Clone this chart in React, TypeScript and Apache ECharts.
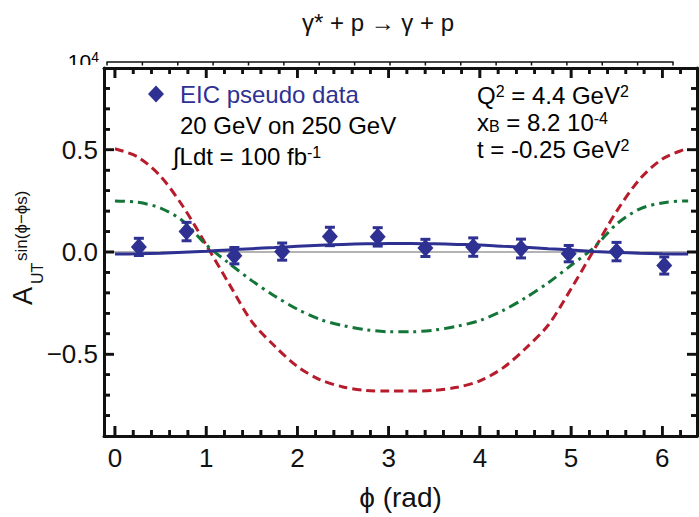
import React, { useEffect, useRef } from "react";
import * as echarts from "echarts";

const FONT = "'Liberation Sans', Arial, Helvetica, sans-serif";
const BLUE = "#2e3192";
const RED = "#b71c2c";
const GREEN = "#137538";
const INK = "#111111";

const TITLE = "γ* + p → γ + p";
const X_NAME = "ϕ (rad)";
const LEGEND_NAME = "EIC pseudo data";

const X_LABELS = [0, 1, 2, 3, 4, 5, 6];
const Y_LABELS = [-0.5, 0, 0.5];
const X_MAJOR_TICKS = [0, 1, 2, 3, 4, 5, 6];
const X_MINOR_TICKS = [0.2, 0.4, 0.6, 0.8, 1.2, 1.4, 1.6, 1.8, 2.2, 2.4, 2.6, 2.8, 3.2, 3.4, 3.6, 3.8, 4.2, 4.4, 4.6, 4.8, 5.2, 5.4, 5.6, 5.8, 6.2];
const Y_MAJOR_TICKS = [-0.5, 0, 0.5];
const Y_MINOR_TICKS = [-0.8, -0.7, -0.6, -0.4, -0.3, -0.2, -0.1, 0.1, 0.2, 0.3, 0.4, 0.6, 0.7, 0.8];
const STRAY_TICKS = [0, 1, 2, 3, 4, 5, 6, 7, 8, 9, 10, 11, 12, 13, 14, 15, 16];

// curve samples (phi in rad)
const PHI = [0, 0.25, 0.5, 0.75, 1, 1.25, 1.5, 1.75, 2, 2.25, 2.5, 2.75, 3, 3.25, 3.5, 3.75, 4, 4.25, 4.5, 4.75, 5, 5.25, 5.5, 5.75, 6, 6.25, 6.2832];
const RED_CURVE = [0.505, 0.465, 0.37, 0.22, 0.035, -0.155, -0.34, -0.46, -0.56, -0.625, -0.66, -0.677, -0.68, -0.68, -0.677, -0.662, -0.63, -0.568, -0.472, -0.357, -0.18, 0.01, 0.2, 0.355, 0.455, 0.503, 0.505];
const GREEN_CURVE = [0.25, 0.243, 0.215, 0.15, 0.035, -0.055, -0.14, -0.215, -0.28, -0.33, -0.36, -0.38, -0.39, -0.39, -0.382, -0.363, -0.335, -0.287, -0.224, -0.15, -0.065, 0.022, 0.137, 0.21, 0.24, 0.25, 0.25];
const FIT_CURVE = [-0.01, -0.009, -0.006, -0.001, 0.004, 0.01, 0.016, 0.022, 0.028, 0.033, 0.037, 0.04, 0.041, 0.041, 0.04, 0.037, 0.034, 0.028, 0.023, 0.016, 0.01, 0.003, -0.002, -0.006, -0.009, -0.01, -0.01];

// pseudo data
const PT_X = [0.262, 0.785, 1.309, 1.833, 2.356, 2.88, 3.403, 3.927, 4.451, 4.974, 5.498, 6.021];
const PT_Y = [0.025, 0.1, -0.018, 0.002, 0.076, 0.074, 0.02, 0.024, 0.017, -0.008, 0.002, -0.066];
const PT_ERR = [0.042, 0.045, 0.04, 0.042, 0.045, 0.045, 0.042, 0.045, 0.046, 0.04, 0.045, 0.042];

// axis ranges
const X_MIN = -0.12;
const X_MAX = 6.38;
const Y_MIN = -0.9;
const Y_MAX = 0.9;

const W = 699;
const H = 517;

export default function App() {
  const ref = useRef<HTMLDivElement>(null);
  useEffect(() => {
    if (!ref.current) return;
    const chart = echarts.init(ref.current, undefined, { renderer: "svg" });
    const base = { fontFamily: FONT, fontSize: 24, lineHeight: 24, color: INK };
    const sup = { fontFamily: FONT, fontSize: 16, lineHeight: 14, verticalAlign: "top", color: INK };
    const sub = { fontFamily: FONT, fontSize: 16, lineHeight: 2, verticalAlign: "bottom", color: INK };
    const rich = { a: base, s: sup, b: sub };
    const nb = { outerBoundsMode: "none", containLabel: false };
    const frameLine = { show: true, onZero: false, lineStyle: { color: INK, width: 3 } };

    // tick marks as rows [x, y, kind]: kind 0/1 x major/minor, 2/3 y major/minor
    const tickRows = [
      ...X_MAJOR_TICKS.map((v) => [v, Y_MIN, 0]),
      ...X_MINOR_TICKS.map((v) => [v, Y_MIN, 1]),
      ...Y_MAJOR_TICKS.map((v) => [X_MIN, v, 2]),
      ...Y_MINOR_TICKS.map((v) => [X_MIN, v, 3]),
    ];
    const tickLen = [10, 6, 10, 6];
    const TW = 2.6;

    const baseGraphic: any[] = [
      {
        type: "text",
        x: 378,
        y: 22,
        style: { text: TITLE, fontFamily: FONT, fontSize: 24, fill: INK, align: "center", verticalAlign: "middle" },
      },
      {
        type: "text",
        x: 99,
        y: 50,
        style: {
          text: "{m|10}{s|4}",
          align: "right",
          verticalAlign: "top",
          rich: {
            m: { fontFamily: FONT, fontSize: 21, lineHeight: 22, color: INK },
            s: { fontFamily: FONT, fontSize: 14, lineHeight: 14, verticalAlign: "top", color: INK },
          },
        },
      },
      { type: "rect", shape: { x: 30, y: 65, width: 72, height: 14 }, style: { fill: "#fff" }, z: 10 },
      { type: "text", x: 180, y: 125, style: { text: "{a|20 GeV on 250 GeV}", rich, verticalAlign: "middle", align: "left" } },
      { type: "text", x: 173, y: 156, style: { text: "{a|∫Ldt = 100 fb}{s|-1}", rich, verticalAlign: "middle", align: "left" } },
      { type: "text", x: 477, y: 95, style: { text: "{a|Q}{s|2}{a| = 4.4 GeV}{s|2}", rich, verticalAlign: "middle", align: "left" } },
      { type: "text", x: 477, y: 122, style: { text: "{a|x}{b|B}{a| = 8.2 10}{s|-4}", rich, verticalAlign: "middle", align: "left" } },
      { type: "text", x: 477, y: 149, style: { text: "{a|t = -0.25 GeV}{s|2}", rich, verticalAlign: "middle", align: "left" } },
      {
        type: "group",
        x: 32,
        y: 305,
        rotation: Math.PI / 2,
        children: [
          { type: "text", x: 0, y: -9.5, style: { text: "A", fontFamily: FONT, fontSize: 27, fill: INK, align: "left", verticalAlign: "middle" } },
          { type: "text", x: 21, y: 5.5, style: { text: "UT", fontFamily: FONT, fontSize: 16, fill: INK, align: "left", verticalAlign: "middle" } },
          { type: "text", x: 44, y: -11, style: { text: "sin(ϕ−ϕs)", fontFamily: FONT, fontSize: 17, fill: INK, align: "left", verticalAlign: "middle" } },
        ],
      },
    ];

    const option: any = {
      animation: false,
      backgroundColor: "#fff",
      textStyle: { fontFamily: FONT },
      grid: [
        { left: 104, right: 2, top: 68, bottom: 81, ...nb },
        { left: 107, top: 62, width: 566, height: 3, ...nb },
      ],
      legend: {
        data: [{ name: LEGEND_NAME, icon: "diamond", itemStyle: { opacity: 1 } }],
        left: 148,
        top: 80,
        padding: 0,
        itemWidth: 16,
        itemHeight: 17,
        selectedMode: false,
        textStyle: { color: BLUE, fontSize: 24, lineHeight: 28, fontFamily: FONT, padding: [0, 0, 0, 11] },
      },
      xAxis: [
        {
          type: "value",
          gridIndex: 0,
          position: "bottom",
          min: X_MIN,
          max: X_MAX,
          axisLine: frameLine,
          axisTick: { show: false },
          axisLabel: { show: true, customValues: X_LABELS, fontSize: 26, color: INK, margin: 9, fontFamily: FONT },
          splitLine: { show: false },
          name: X_NAME,
          nameLocation: "middle",
          nameGap: 47,
          nameTextStyle: { fontSize: 28, color: INK, fontFamily: FONT },
        },
        {
          type: "value",
          gridIndex: 0,
          position: "top",
          min: X_MIN,
          max: X_MAX,
          axisLine: frameLine,
          axisTick: { show: false },
          axisLabel: { show: false },
          splitLine: { show: false },
        },
        {
          type: "value",
          gridIndex: 1,
          position: "top",
          min: 0,
          max: 16,
          axisLine: { show: true, onZero: false, lineStyle: { color: INK, width: 1.5 } },
          axisTick: { show: false },
          axisLabel: { show: false },
          splitLine: { show: false },
        },
      ],
      yAxis: [
        {
          type: "value",
          gridIndex: 0,
          position: "left",
          min: Y_MIN,
          max: Y_MAX,
          axisLine: frameLine,
          axisTick: { show: false },
          axisLabel: {
            show: true,
            customValues: Y_LABELS,
            fontSize: 26,
            color: INK,
            margin: 6,
            fontFamily: FONT,
            formatter: (v: number) => (v < 0 ? "−" + Math.abs(v).toFixed(1) : v.toFixed(1)),
          },
          splitLine: { show: false },
        },
        {
          type: "value",
          gridIndex: 0,
          position: "right",
          min: Y_MIN,
          max: Y_MAX,
          axisLine: frameLine,
          axisTick: { show: false },
          axisLabel: { show: false },
          splitLine: { show: false },
        },
        { type: "value", gridIndex: 1, min: 0, max: 1, show: false },
      ],
      series: [
        {
          name: "Model A",
          type: "line",
          xAxisIndex: 0,
          yAxisIndex: 0,
          data: PHI.map((p, i) => [p, RED_CURVE[i]]),
          showSymbol: false,
          smooth: 0.3,
          lineStyle: { color: RED, width: 3, type: [9, 5] },
          z: 3,
        },
        {
          name: "Model B",
          type: "line",
          xAxisIndex: 0,
          yAxisIndex: 0,
          data: PHI.map((p, i) => [p, GREEN_CURVE[i]]),
          showSymbol: false,
          smooth: 0.3,
          lineStyle: { color: GREEN, width: 3, type: [10, 5, 3, 5] },
          z: 3,
        },
        {
          name: "Fit",
          type: "line",
          xAxisIndex: 0,
          yAxisIndex: 0,
          data: PHI.map((p, i) => [p, FIT_CURVE[i]]),
          showSymbol: false,
          smooth: 0.3,
          lineStyle: { color: BLUE, width: 3 },
          z: 4,
          markLine: {
            silent: true,
            symbol: "none",
            label: { show: false },
            lineStyle: { color: "#9a9a9a", width: 1.5, type: "solid" },
            data: [{ yAxis: 0 }],
            z: 2,
          },
        },
        {
          name: "errors",
          type: "custom",
          xAxisIndex: 0,
          yAxisIndex: 0,
          data: PT_X.map((x, i) => [x, PT_Y[i], PT_ERR[i]]),
          encode: { x: 0, y: 1 },
          z: 5,
          renderItem: (_params: any, api: any) => {
            const x = api.value(0);
            const y = api.value(1);
            const e = api.value(2);
            const top = api.coord([x, y + e]);
            const bot = api.coord([x, y - e]);
            const cw = 5;
            const st = { stroke: BLUE, lineWidth: 3 };
            return {
              type: "group",
              children: [
                { type: "line", shape: { x1: top[0], y1: top[1], x2: bot[0], y2: bot[1] }, style: st },
                { type: "line", shape: { x1: top[0] - cw, y1: top[1], x2: top[0] + cw, y2: top[1] }, style: st },
                { type: "line", shape: { x1: bot[0] - cw, y1: bot[1], x2: bot[0] + cw, y2: bot[1] }, style: st },
              ],
            };
          },
        },
        {
          name: "axis ticks",
          type: "custom",
          xAxisIndex: 0,
          yAxisIndex: 0,
          data: tickRows,
          encode: { x: 0, y: 1 },
          clip: false,
          z: 7,
          renderItem: (_params: any, api: any) => {
            const x = api.value(0);
            const y = api.value(1);
            const kind = api.value(2);
            const len = tickLen[kind];
            const fill = { fill: INK };
            if (kind < 2) {
              const b = api.coord([x, Y_MIN]);
              const t = api.coord([x, Y_MAX]);
              return {
                type: "group",
                children: [
                  { type: "rect", shape: { x: b[0] - TW / 2, y: b[1] - len, width: TW, height: len }, style: fill },
                  { type: "rect", shape: { x: t[0] - TW / 2, y: t[1], width: TW, height: len }, style: fill },
                ],
              };
            }
            const l = api.coord([X_MIN, y]);
            const r = api.coord([X_MAX, y]);
            return {
              type: "group",
              children: [
                { type: "rect", shape: { x: l[0], y: l[1] - TW / 2, width: len, height: TW }, style: fill },
                { type: "rect", shape: { x: r[0] - len, y: r[1] - TW / 2, width: len, height: TW }, style: fill },
              ],
            };
          },
        },
        {
          name: LEGEND_NAME,
          type: "scatter",
          xAxisIndex: 0,
          yAxisIndex: 0,
          data: PT_X.map((x, i) => [x, PT_Y[i]]),
          symbol: "diamond",
          symbolSize: [16, 18],
          itemStyle: { color: BLUE, opacity: 1 },
          z: 6,
        },
      ],
      graphic: baseGraphic,
    };
    chart.setOption(option);

    // stray top-scale ticks and a second copy of the frame ticks, placed through the axes' scales
    const px = (x: number, y: number) => chart.convertToPixel({ xAxisIndex: 0, yAxisIndex: 0 }, [x, y]) as number[];
    const box = (x: number, y: number, w: number, h: number) => ({
      type: "rect",
      z: 50,
      shape: { x, y, width: w, height: h },
      style: { fill: INK },
    });
    const extra: any[] = [];
    tickRows.forEach((row) => {
      const kind = row[2];
      const len = tickLen[kind];
      if (kind < 2) {
        const b = px(row[0], Y_MIN);
        const t = px(row[0], Y_MAX);
        if (b && t) extra.push(box(b[0] - TW / 2, b[1] - len, TW, len), box(t[0] - TW / 2, t[1], TW, len));
      } else {
        const l = px(X_MIN, row[1]);
        const r = px(X_MAX, row[1]);
        if (l && r) extra.push(box(l[0], l[1] - TW / 2, len, TW), box(r[0] - len, r[1] - TW / 2, len, TW));
      }
    });
    STRAY_TICKS.forEach((v) => {
      const p = chart.convertToPixel({ xAxisIndex: 2, yAxisIndex: 2 }, [v, 1]) as number[];
      if (p) extra.push(box(p[0] - 0.75, p[1], 1.5, 3.5));
    });
    chart.setOption({ graphic: [...baseGraphic, ...extra] });

    return () => chart.dispose();
  }, []);
  return <div ref={ref} style={{ position: "absolute", left: 0, top: 0, width: W, height: H, background: "#fff" }} />;
}
